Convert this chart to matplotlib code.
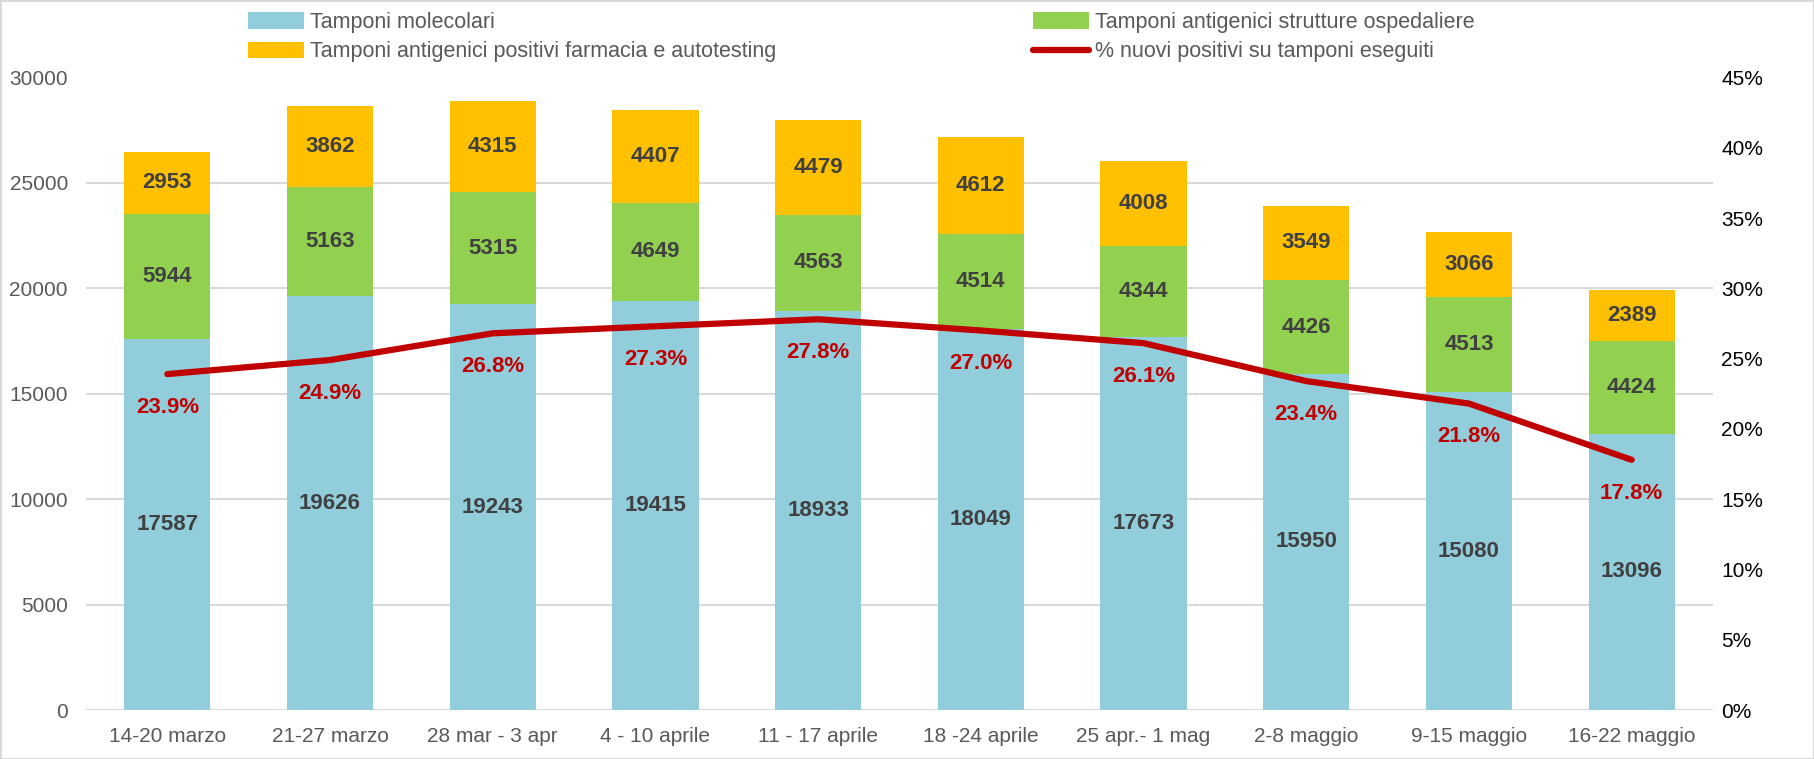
import matplotlib
matplotlib.use("Agg")
import matplotlib.pyplot as plt
import numpy as np
from matplotlib.ticker import FuncFormatter, MultipleLocator

plt.rcParams['font.family'] = ['Liberation Sans', 'DejaVu Sans']

categories = ["14-20 marzo", "21-27 marzo", "28 mar - 3 apr", "4 - 10 aprile", "11 - 17 aprile",
              "18 -24 aprile", "25 apr.- 1 mag", "2-8 maggio", "9-15 maggio", "16-22 maggio"]
molecolari = [17587, 19626, 19243, 19415, 18933, 18049, 17673, 15950, 15080, 13096]
antigenici_osp = [5944, 5163, 5315, 4649, 4563, 4514, 4344, 4426, 4513, 4424]
antigenici_farm = [2953, 3862, 4315, 4407, 4479, 4612, 4008, 3549, 3066, 2389]
perc_positivi = [23.9, 24.9, 26.8, 27.3, 27.8, 27.0, 26.1, 23.4, 21.8, 17.8]

c_blue = "#92CDDC"
c_green = "#92D050"
c_yellow = "#FFC000"
c_red = "#C00000"
c_text = "#404040"
c_tick = "#595959"

W, H = 1814, 759
fig = plt.figure(figsize=(W / 100, H / 100), dpi=100)
fig.patch.set_edgecolor("#D9D9D9")
fig.patch.set_linewidth(2)
left, right, bottom, top = 86, 1713, 710, 77.5
ax = fig.add_axes([left / W, 1 - bottom / H, (right - left) / W, (bottom - top) / H])
x = np.arange(len(categories))
w = 0.53
b1 = ax.bar(x, molecolari, w, color=c_blue, label="Tamponi molecolari", zorder=2)
b2 = ax.bar(x, antigenici_osp, w, bottom=molecolari, color=c_green,
            label="Tamponi antigenici strutture ospedaliere", zorder=2)
bottom3 = np.array(molecolari) + np.array(antigenici_osp)
b3 = ax.bar(x, antigenici_farm, w, bottom=bottom3, color=c_yellow,
            label="Tamponi antigenici positivi farmacia e autotesting", zorder=2)

lab_kw = dict(label_type="center", color=c_text, fontsize=16, fontweight="bold")
ax.bar_label(b1, **lab_kw)
ax.bar_label(b2, **lab_kw)
ax.bar_label(b3, **lab_kw)

ax.set_xlim(-0.5, len(categories) - 0.5)
ax.set_ylim(0, 30000)
ax.yaxis.set_major_locator(MultipleLocator(5000))
ax.grid(axis="y", color="#D9D9D9", linewidth=1.5, zorder=0)
ax.set_axisbelow(True)
for s in ax.spines.values():
    s.set_visible(False)
ax.set_xticks(x)
ax.set_xticklabels(categories)
ax.tick_params(axis="both", length=0, labelsize=15, colors=c_tick)
ax.tick_params(axis="x", pad=12)
ax.tick_params(axis="y", pad=13)

ax2 = ax.twinx()
ax2.set_ylim(0, 45)
ax2.yaxis.set_major_locator(MultipleLocator(5))
ax2.yaxis.set_major_formatter(FuncFormatter(lambda v, p: f"{v:.0f}%"))
ax2.tick_params(axis="y", length=0, labelsize=15, colors="#000000", pad=6)
for s in ax2.spines.values():
    s.set_visible(False)
ln, = ax2.plot(x, perc_positivi, color=c_red, linewidth=4.5, solid_capstyle="round",
               label="% nuovi positivi su tamponi eseguiti", zorder=3)
for xi, p in zip(x, perc_positivi):
    ax2.annotate(f"{p:.1f}%", (xi, p), xytext=(0, -24), textcoords="offset points",
                 ha="center", va="center", color=c_red, fontsize=16, fontweight="bold")

handles = [b1, b2, b3, ln]
labels = [h.get_label() for h in handles]
order = [0, 2, 1, 3]
fig.legend([handles[i] for i in order], [labels[i] for i in order], ncol=2,
           loc="upper left", bbox_to_anchor=(0.126, 1.01), frameon=False,
           fontsize=15.5, labelcolor=c_tick, handlelength=2.6, handleheight=0.8,
           columnspacing=11.9, handletextpad=0.3, labelspacing=0.4)

fig.savefig("out.png", dpi=100, edgecolor=fig.get_edgecolor())
